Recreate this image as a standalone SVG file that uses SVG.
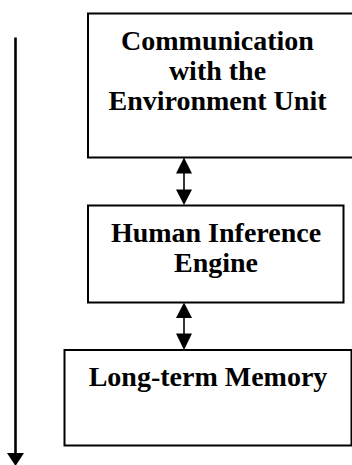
<svg xmlns="http://www.w3.org/2000/svg" width="352" height="465" viewBox="0 0 352 465">
  <style>
    .box { fill: #fff; stroke: #000; stroke-width: 2; }
    .label { font-family: "Liberation Serif", "Times New Roman", serif; font-weight: bold; font-size: 28px; fill: #000; text-anchor: middle; }
    .link { stroke: #000; stroke-width: 1.6; fill: none; }
    .flow { stroke: #000; stroke-width: 2.6; fill: none; }
    .head { fill: #000; }
  </style>

  <!-- components -->
  <g id="comm-unit">
    <rect class="box" x="88" y="13.5" width="270" height="144"/>
    <text class="label" x="217.5" y="50">Communication</text>
    <text class="label" x="217.5" y="80">with the</text>
    <text class="label" x="217.5" y="110">Environment Unit</text>
  </g>

  <g id="inference-engine">
    <rect class="box" x="88" y="205.5" width="255.5" height="97"/>
    <text class="label" x="216" y="241.5">Human Inference</text>
    <text class="label" x="216" y="271.5">Engine</text>
  </g>

  <g id="long-term-memory">
    <rect class="box" x="64.5" y="350" width="287" height="95.5"/>
    <text class="label" x="208" y="386">Long-term Memory</text>
  </g>

  <!-- connectors -->
  <g id="connectors">
    <!-- comm unit <-> inference engine -->
    <line class="link" x1="184" y1="172" x2="184" y2="191"/>
    <polygon class="head" points="184,157.5 176,173.5 192,173.5"/>
    <polygon class="head" points="184,205 176,189.5 192,189.5"/>

    <!-- inference engine <-> long-term memory -->
    <line class="link" x1="184" y1="317" x2="184" y2="335"/>
    <polygon class="head" points="184,302.5 176,318 192,318"/>
    <polygon class="head" points="184,350 176,333.5 192,333.5"/>

    <!-- overall downward flow -->
    <line class="flow" x1="15.5" y1="37.5" x2="15.5" y2="454"/>
    <polygon class="head" points="7,453 24,453 15.5,466"/>
  </g>
</svg>
